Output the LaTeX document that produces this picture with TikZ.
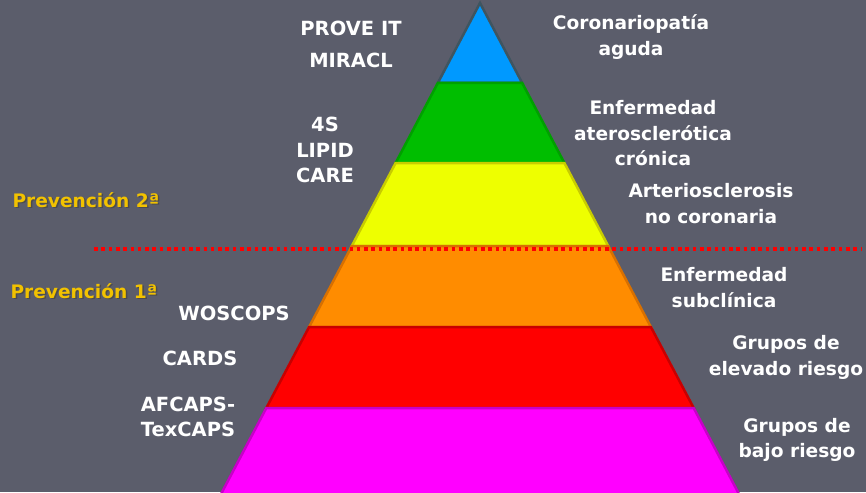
\documentclass[tikz,border=0pt]{standalone}
\usepackage{fontspec}
\setmainfont{DejaVu Sans}
\definecolor{bg}{HTML}{5B5D6B}
\definecolor{cblue}{HTML}{0099FF}\definecolor{eblue}{HTML}{3F5560}
\definecolor{cgreen}{HTML}{00BE00}\definecolor{egreen}{HTML}{00A000}
\definecolor{cyellow}{HTML}{EEFF00}\definecolor{eyellow}{HTML}{C8CC00}
\definecolor{corange}{HTML}{FF8C00}\definecolor{eorange}{HTML}{D87000}
\definecolor{cred}{HTML}{FF0000}\definecolor{ered}{HTML}{C80000}
\definecolor{cmag}{HTML}{FF00FF}\definecolor{emag}{HTML}{C800C8}
\definecolor{gold}{HTML}{F2C200}
\tikzset{
  band/.style={line width=2.5pt, line join=miter},
  rlabel/.style={text=white, align=center, font=\fontsize{18.6}{25.5}\selectfont\bfseries},
  llabel/.style={text=white, align=center, font=\fontsize{19.5}{25.5}\selectfont\bfseries},
  plabel/.style={text=gold, anchor=west, font=\fontsize{18.6}{22}\selectfont\bfseries},
  pshadow/.style={text=black!70, anchor=west, font=\fontsize{18.6}{22}\selectfont\bfseries},
}
\begin{document}
\begin{tikzpicture}[x=1pt,y=-1pt]
\fill[bg] (0,0) rectangle (866,492);
\useasboundingbox (0,0) rectangle (866,492);
% pyramid bands (apex 480,3; half width grows 258/489 per px)
\filldraw[band, fill=cblue, draw=eblue] (480,3) -- (522.2,83) -- (437.8,83) -- cycle;
\filldraw[band, fill=cgreen, draw=egreen] (437.8,83) -- (522.2,83) -- (564.4,163) -- (395.6,163) -- cycle;
\filldraw[band, fill=cyellow, draw=eyellow] (395.6,163) -- (564.4,163) -- (608.2,246) -- (351.8,246) -- cycle;
\filldraw[band, fill=corange, draw=eorange] (351.8,246) -- (608.2,246) -- (650.9,327) -- (309.1,327) -- cycle;
\filldraw[band, fill=cred, draw=ered] (309.1,327) -- (650.9,327) -- (693.7,408) -- (266.3,408) -- cycle;
\filldraw[band, fill=cmag, draw=emag] (266.3,408) -- (693.7,408) -- (740,496) -- (220,496) -- cycle;
% dotted separator
\coordinate (dl) at (94,249);
\coordinate (dr) at (862,249);
\draw[red, line width=4pt, dash pattern=on 3.6pt off 3.7pt] (dl) -- (dr);
% right labels
\node[rlabel] (r1) at (631,37) {Coronariopatía\\aguda};
\node[rlabel] (r2) at (653,133.5) {Enfermedad\\aterosclerótica\\crónica};
\node[rlabel] (r3) at (711,203.5) {Arteriosclerosis\\no coronaria};
\node[rlabel] (r4) at (724,287.5) {Enfermedad\\subclínica};
\node[rlabel] (r5) at (786,357.5) {Grupos de\\elevado riesgo};
\node[rlabel] (r6) at (797,440) {Grupos de\\bajo riesgo};
% left labels
\node[llabel, font=\fontsize{19.5}{32}\selectfont\bfseries] (l1) at (351,44) {PROVE IT\\MIRACL};
\node[llabel] (l2) at (325,150) {4S\\LIPID\\CARE};
\node[llabel] (l3) at (234,313.5) {WOSCOPS};
\node[llabel] (l4) at (200,358.5) {CARDS};
\node[llabel] (l5) at (188,417) {AFCAPS-\\TexCAPS};
% prevention labels
\node[pshadow] at (10.5,201.5) {Prevención 2ª};
\node[plabel] (p2) at (9,200) {Prevención 2ª};
\node[pshadow] at (8.5,292.5) {Prevención 1ª};
\node[plabel] (p1) at (7,291) {Prevención 1ª};
\end{tikzpicture}
\end{document}
